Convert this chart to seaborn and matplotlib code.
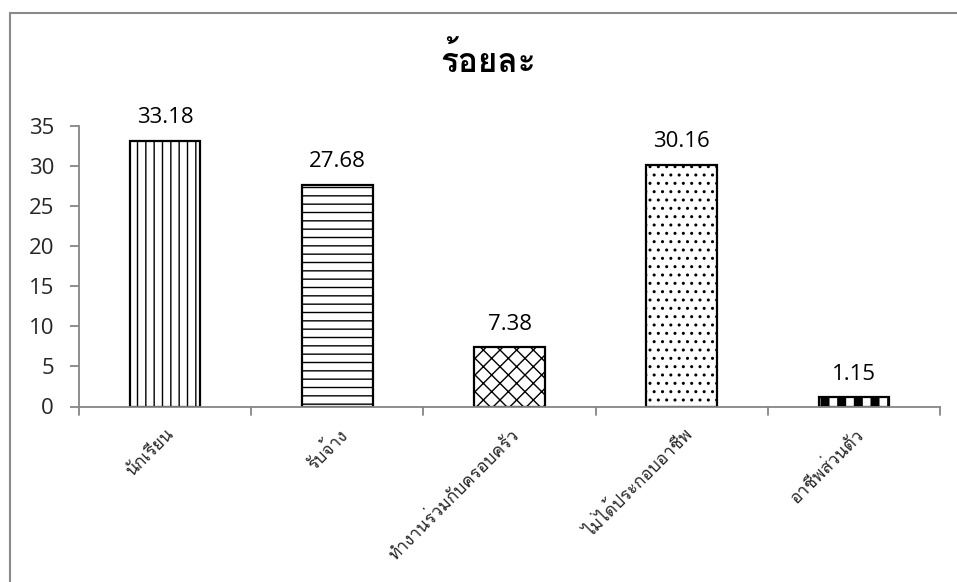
import matplotlib
matplotlib.use("Agg")
import matplotlib.pyplot as plt
from matplotlib import font_manager
from matplotlib.ft2font import FT2Font
from matplotlib.patches import Rectangle
from matplotlib.transforms import ScaledTranslation
import seaborn as sns
import pandas as pd

categories = ["นักเรียน", "รับจ้าง", "ทำงานร่วมกับครอบครัว", "ไม่ได้ประกอบอาชีพ", "อาชีพส่วนตัว"]
values = [33.18, 27.68, 7.38, 30.16, 1.15]
value_labels = ["33.18", "27.68", "7.38", "30.16", "1.15"]
title = "ร้อยละ"
yticks = [0, 5, 10, 15, 20, 25, 30, 35]
hatches = ["||", "--", "xx", "..", "|"]

sns.set_theme(style="white")

# find a font with Thai glyphs
thai_font = None
for f in font_manager.fontManager.ttflist:
    try:
        cm = FT2Font(f.fname).get_charmap()
    except Exception:
        continue
    if ord("ร") in cm:
        thai_font = f.name
        break
fams = ["Open Sans"] + ([thai_font] if thai_font else []) + ["DejaVu Sans"]
plt.rcParams["font.family"] = fams

df = pd.DataFrame({"cat": categories, "val": values})

fig = plt.figure(figsize=(9.57, 5.82), dpi=100)
ax = fig.add_axes([79/957, 175.5/582, 861/957, 280.5/582])

sns.barplot(data=df, x="cat", y="val", color="white", edgecolor="black",
            linewidth=1.6, width=0.41, ax=ax, saturation=1)

for p, h in zip(ax.patches, hatches):
    p.set_hatch(h)
    p.set_facecolor("white")
    p.set_edgecolor("black")
if hasattr(ax.patches[4], "set_hatch_linewidth"):
    ax.patches[4].set_hatch_linewidth(6.5)

for i, (v, lab) in enumerate(zip(values, value_labels)):
    ax.annotate(lab, (i, v), xytext=(0, 9), textcoords="offset points",
                ha="center", va="bottom", fontsize=16, color="black")

ax.set_xlim(-0.5, 4.5)
ax.set_ylim(0, 35)
ax.set_yticks(yticks)
ax.set_yticklabels([str(t) for t in yticks], fontsize=16)
ax.set_xlabel("")
ax.set_ylabel("")

ax.set_xticks(range(len(categories)))
ax.set_xticklabels(categories, rotation=45, ha="right", va="top",
                   rotation_mode="anchor", fontsize=12.5)
ax.tick_params(axis="x", length=0, pad=14)
shift = ScaledTranslation(1/100, 0, fig.dpi_scale_trans)
for lbl in ax.get_xticklabels():
    lbl.set_transform(lbl.get_transform() + shift)
for i in range(6):
    ax.plot([i - 0.5, i - 0.5], [0, -0.03], transform=ax.get_xaxis_transform(),
            color="#868686", lw=1.3, clip_on=False)

ax.tick_params(axis="y", length=6.5, width=1.3, color="#868686", left=True, pad=11.5)
for s in ["top", "right"]:
    ax.spines[s].set_visible(False)
for s in ["left", "bottom"]:
    ax.spines[s].set_color("#868686")
    ax.spines[s].set_linewidth(1.3)

fig.text(488/957, 1 - 62/582, title, ha="center", va="center", fontsize=24,
         fontweight="bold", color="black")

fig.patches.append(Rectangle((10/957, -0.1), 1.2, 1 - 13/582 + 0.1,
                             transform=fig.transFigure, fill=False,
                             edgecolor="#8a8a8a", lw=1.5))

fig.savefig("out.png", dpi=100)
